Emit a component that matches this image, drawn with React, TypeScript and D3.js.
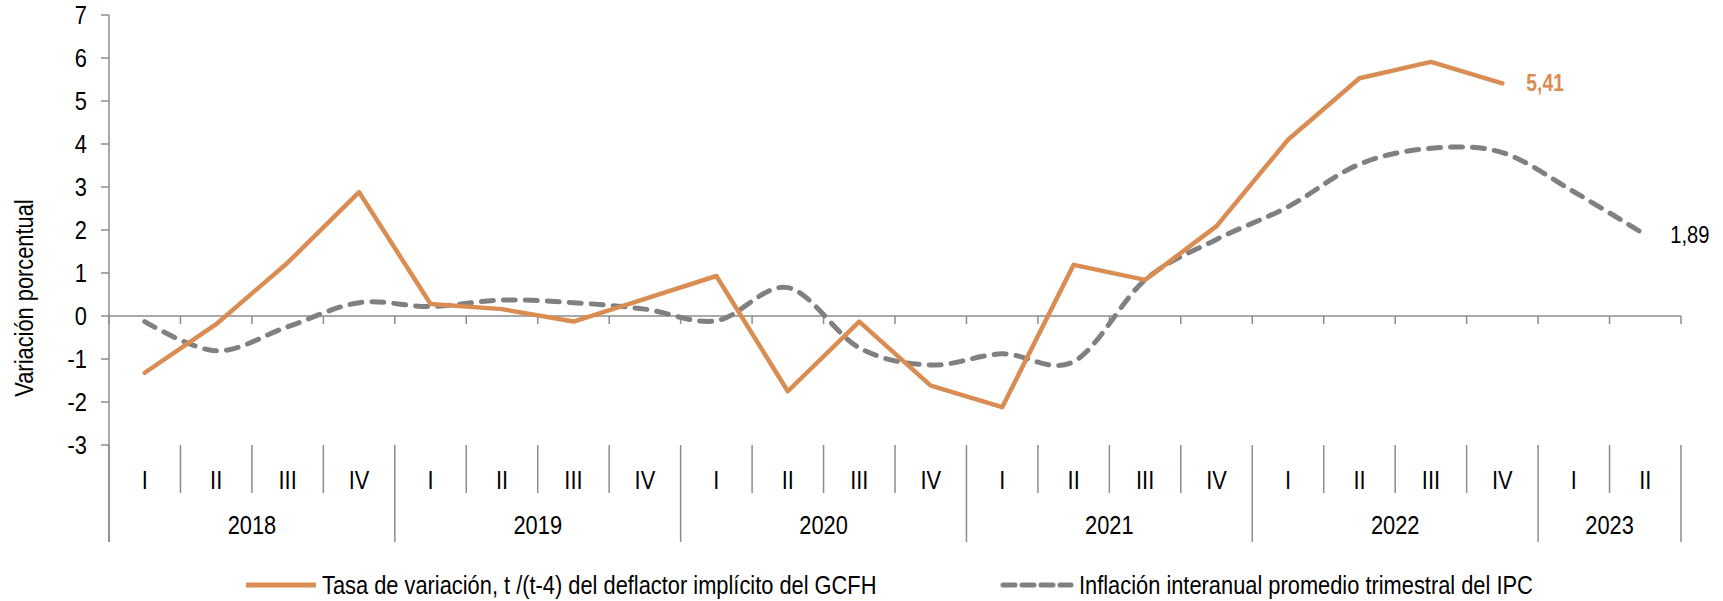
import React from "react";
import * as d3 from "d3";

const quarterLabels = ["I","II","III","IV","I","II","III","IV","I","II","III","IV","I","II","III","IV","I","II","III","IV","I","II"];
const yearLabels = ["2018","2019","2020","2021","2022","2023"];
const yearQuarterCounts = [4,4,4,4,4,2];
const deflactor = [-1.32,-0.19,1.24,2.88,0.28,0.16,-0.13,0.40,0.93,-1.75,-0.13,-1.62,-2.12,1.19,0.84,2.09,4.10,5.53,5.91,5.41];
const ipc = [-0.13,-0.81,-0.25,0.31,0.22,0.37,0.31,0.16,-0.11,0.66,-0.74,-1.14,-0.88,-1.06,0.84,1.78,2.54,3.53,3.90,3.80,2.89,1.89];
const yTicks = [-3,-2,-1,0,1,2,3,4,5,6,7];
const seriesNames = ["Tasa de variación, t /(t-4) del deflactor implícito del GCFH","Inflación interanual promedio trimestral del IPC"];
const lastLabels = ["5,41","1,89"];

const W = 1723, H = 601;
const FONT = "'Liberation Sans',Arial,sans-serif";
const FS = 26;
const SX = 0.84;
const ORANGE = "#DA8D52";
const GRAY = "#808080";
const AXIS = "#8C8C8C";

function Txt(props: { x: number; y: number; anchor?: string; size?: number; weight?: string; fill?: string; rotate?: number; children: React.ReactNode }) {
  const { x, y, anchor = "start", size = FS, weight = "normal", fill = "#000", rotate = 0, children } = props;
  return (
    <text
      transform={`translate(${x},${y}) rotate(${rotate}) scale(${SX},1)`}
      textAnchor={anchor}
      dy="0.35em"
      fontSize={size}
      fontWeight={weight}
      fill={fill}
    >
      {children}
    </text>
  );
}

export default function App() {
  const left = 109, right = 1681, top = 15, bottom = 445;
  const y = d3.scaleLinear().domain([-3, 7]).range([bottom, top]);
  const x = d3.scaleBand<number>().domain(d3.range(quarterLabels.length)).range([left, right]).paddingInner(0).paddingOuter(0);
  const step = x.step();
  const cx = (i: number) => (x(i) as number) + step / 2;

  const lineStraight = d3.line<number>().x((_, i) => cx(i)).y(d => y(d));
  const lineSmooth = d3.line<number>().x((_, i) => cx(i)).y(d => y(d)).curve(d3.curveCatmullRom.alpha(0));

  const y0 = y(0);
  const bandTop = 445, qBottom = 493, yrBottom = 542;

  const yearStarts: number[] = [];
  let acc = 0;
  yearQuarterCounts.forEach(n => { yearStarts.push(acc); acc += n; });
  const isYearBoundary = (k: number) => k === 0 || k === quarterLabels.length || yearStarts.includes(k);

  const boundaries = d3.range(quarterLabels.length + 1);
  const bx = (k: number) => left + k * step;

  const lastD = deflactor.length - 1;
  const lastI = ipc.length - 1;

  return (
    <svg width={W} height={H} style={{ position: "absolute", left: 0, top: 0, background: "#fff" }} fontFamily={FONT}>
      {/* y axis */}
      <line x1={left} x2={left} y1={top} y2={yrBottom} stroke={AXIS} strokeWidth={1.5} />
      {yTicks.map(t => (
        <g key={t}>
          <line x1={left - 8} x2={left} y1={y(t)} y2={y(t)} stroke={AXIS} strokeWidth={1.5} />
          <Txt x={87} y={y(t)} anchor="end">{t}</Txt>
        </g>
      ))}
      <Txt x={24} y={298} anchor="middle" rotate={-90}>Variación porcentual</Txt>

      {/* x axis at zero */}
      <line x1={left} x2={right} y1={y0} y2={y0} stroke={AXIS} strokeWidth={1.5} />
      {boundaries.map(k => (
        <line key={"t" + k} x1={bx(k)} x2={bx(k)} y1={y0} y2={y0 + 8} stroke={AXIS} strokeWidth={1.5} />
      ))}

      {/* category band */}
      {boundaries.map(k => (
        <line key={"b" + k} x1={bx(k)} x2={bx(k)} y1={bandTop} y2={isYearBoundary(k) ? yrBottom : qBottom} stroke={AXIS} strokeWidth={1.5} />
      ))}
      {quarterLabels.map((q, i) => (
        <Txt key={"q" + i} x={cx(i)} y={480} anchor="middle">{q}</Txt>
      ))}
      {yearLabels.map((yl, j) => {
        const s = yearStarts[j];
        const mid = left + (s + yearQuarterCounts[j] / 2) * step;
        return <Txt key={yl} x={mid} y={525} anchor="middle">{yl}</Txt>;
      })}

      {/* series */}
      <path d={lineSmooth(ipc) || ""} fill="none" stroke={GRAY} strokeWidth={5} strokeDasharray="12 10" strokeLinecap="round" strokeLinejoin="round" />
      <path d={lineStraight(deflactor) || ""} fill="none" stroke={ORANGE} strokeWidth={4.5} strokeLinejoin="round" strokeLinecap="round" />

      <Txt x={cx(lastD) + 24} y={y(deflactor[lastD])} size={23} weight="bold" fill={ORANGE}>{lastLabels[0]}</Txt>
      <Txt x={cx(lastI) + 25} y={y(ipc[lastI])} size={24}>{lastLabels[1]}</Txt>

      {/* legend */}
      <line x1={246} x2={316} y1={585} y2={585} stroke={ORANGE} strokeWidth={5} />
      <Txt x={322} y={585}>{seriesNames[0]}</Txt>
      <line x1={1003} x2={1071} y1={585} y2={585} stroke={GRAY} strokeWidth={5} strokeDasharray="12 7" strokeLinecap="round" />
      <Txt x={1079} y={585}>{seriesNames[1]}</Txt>
    </svg>
  );
}
